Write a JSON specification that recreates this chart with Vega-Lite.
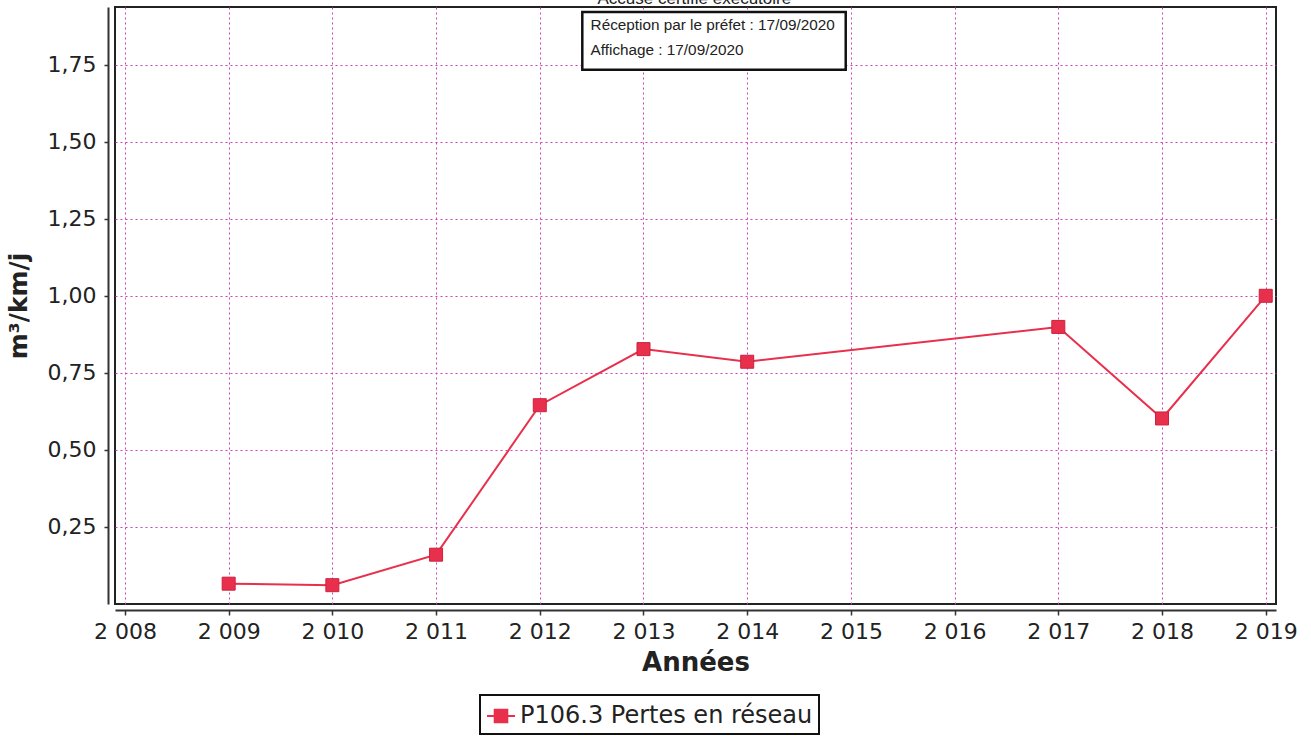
{
  "$schema": "https://vega.github.io/schema/vega-lite/v6.json",
  "autosize": "none",
  "width": 1161,
  "height": 597,
  "padding": {"left": 115, "top": 7, "right": 35, "bottom": 132},
  "background": "white",
  "config": {
    "locale": {"number": {"decimal": ",", "thousands": " ", "grouping": [3], "currency": ["", " €"]}},
    "font": "DejaVu Sans",
    "view": {"stroke": "#222222", "strokeWidth": 2},
    "legend": {"strokeWidth": 2}
  },
  "datasets": {
    "pertes": [
      {"annee": 2009, "valeur": 0.066, "serie": "P106.3 Pertes en réseau"},
      {"annee": 2010, "valeur": 0.061, "serie": "P106.3 Pertes en réseau"},
      {"annee": 2011, "valeur": 0.160, "serie": "P106.3 Pertes en réseau"},
      {"annee": 2012, "valeur": 0.645, "serie": "P106.3 Pertes en réseau"},
      {"annee": 2013, "valeur": 0.827, "serie": "P106.3 Pertes en réseau"},
      {"annee": 2014, "valeur": 0.786, "serie": "P106.3 Pertes en réseau"},
      {"annee": 2017, "valeur": 0.899, "serie": "P106.3 Pertes en réseau"},
      {"annee": 2018, "valeur": 0.602, "serie": "P106.3 Pertes en réseau"},
      {"annee": 2019, "valeur": 1.0, "serie": "P106.3 Pertes en réseau"}
    ],
    "tampon": [
      {"debut": 2012.41, "fin": 2014.95, "bas": 1.733, "haut": 1.921}
    ],
    "tampontexte": [
      {"px": 2012.49, "py": 1.879, "texte": "Réception par le préfet : 17/09/2020"},
      {"px": 2012.49, "py": 1.798, "texte": "Affichage : 17/09/2020"}
    ],
    "entete": [
      {"px": 2013.49, "py": 1.947, "texte": "Accusé certifié exécutoire"}
    ]
  },
  "layer": [
    {
      "data": {"name": "pertes"},
      "mark": {"type": "line", "strokeWidth": 2, "clip": true},
      "encoding": {
        "x": {
          "field": "annee", "type": "quantitative",
          "scale": {"domain": [2007.904, 2019.099], "nice": false, "zero": false},
          "axis": {
            "values": [2008, 2009, 2010, 2011, 2012, 2013, 2014, 2015, 2016, 2017, 2018, 2019],
            "format": ",d",
            "title": "Années",
            "titleFont": "DejaVu Sans", "titleFontSize": 26, "titleFontWeight": "bold", "titleColor": "#222222", "titlePadding": 7,
            "labelFont": "DejaVu Sans", "labelFontSize": 22, "labelColor": "#222222", "labelPadding": 6,
            "offset": 6, "domainColor": "#333333", "domainWidth": 2,
            "tickColor": "#333333", "tickSize": 5, "tickWidth": 1.5,
            "grid": true, "gridColor": "#d23fb9", "gridDash": [2, 3], "gridWidth": 1
          }
        },
        "y": {
          "field": "valeur", "type": "quantitative",
          "scale": {"domain": [0, 1.937], "nice": false, "zero": false},
          "axis": {
            "values": [0.25, 0.5, 0.75, 1.0, 1.25, 1.5, 1.75],
            "format": ".2f",
            "title": "m³/km/j",
            "titleFont": "DejaVu Sans", "titleFontSize": 25, "titleFontWeight": "bold", "titleColor": "#222222", "titlePadding": 16,
            "labelFont": "DejaVu Sans", "labelFontSize": 22, "labelColor": "#222222", "labelPadding": 8,
            "offset": 7, "domainColor": "#333333", "domainWidth": 2,
            "tickColor": "#333333", "tickSize": 4, "tickWidth": 1.5,
            "grid": true, "gridColor": "#d23fb9", "gridDash": [2, 3], "gridWidth": 1
          }
        },
        "color": {
          "field": "serie", "type": "nominal",
          "scale": {"range": ["#e8304c"]},
          "legend": {
            "title": null,
            "orient": "none", "legendX": 365, "legendY": 688,
            "strokeColor": "#111111", "padding": 6,
            "labelFont": "DejaVu Sans", "labelFontSize": 24, "labelColor": "#222222", "labelLimit": 0,
            "symbolType": "M-1,0H1M-0.45,-0.45H0.45V0.45H-0.45Z",
            "symbolSize": 784, "symbolStrokeWidth": 2,
            "symbolFillColor": "#e8304c", "symbolStrokeColor": "#e8304c", "symbolOpacity": 1,
            "labelOffset": 4
          }
        }
      }
    },
    {
      "data": {"name": "pertes"},
      "mark": {"type": "point", "shape": "square", "filled": true, "size": 169, "opacity": 1, "stroke": "#cc2040", "strokeWidth": 1},
      "encoding": {
        "x": {"field": "annee", "type": "quantitative"},
        "y": {"field": "valeur", "type": "quantitative"},
        "color": {"field": "serie", "type": "nominal"}
      }
    },
    {
      "data": {"name": "tampon"},
      "mark": {"type": "rect", "fill": "white", "stroke": "#111111", "strokeWidth": 2.5},
      "encoding": {
        "x": {"field": "debut", "type": "quantitative"},
        "x2": {"field": "fin"},
        "y": {"field": "bas", "type": "quantitative"},
        "y2": {"field": "haut"}
      }
    },
    {
      "data": {"name": "tampontexte"},
      "mark": {"type": "text", "align": "left", "baseline": "middle", "font": "Liberation Sans", "fontSize": 15.3, "color": "#222222"},
      "encoding": {
        "x": {"field": "px", "type": "quantitative"},
        "y": {"field": "py", "type": "quantitative"},
        "text": {"field": "texte"}
      }
    },
    {
      "data": {"name": "entete"},
      "mark": {"type": "text", "align": "center", "baseline": "alphabetic", "font": "Liberation Sans", "fontSize": 17, "color": "#222222"},
      "encoding": {
        "x": {"field": "px", "type": "quantitative"},
        "y": {"field": "py", "type": "quantitative"},
        "text": {"field": "texte"}
      }
    }
  ]
}
